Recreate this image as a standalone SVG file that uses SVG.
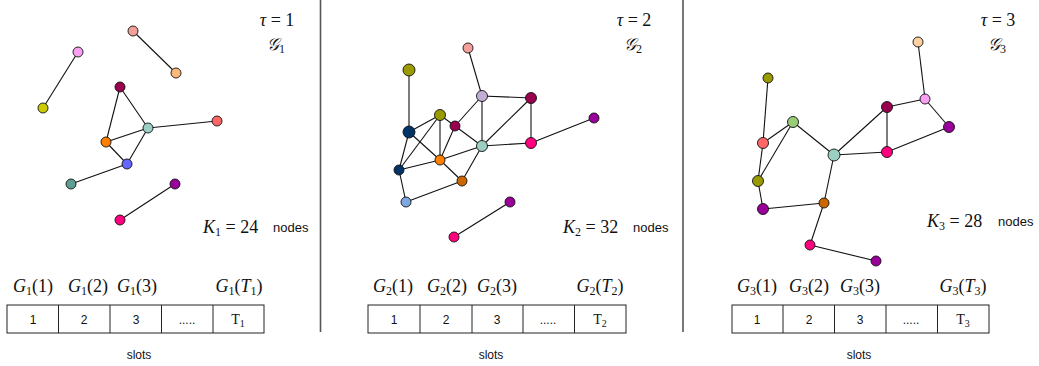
<svg xmlns="http://www.w3.org/2000/svg" width="1039" height="366" viewBox="0 0 1039 366">
<style>
.e{stroke:#111;stroke-width:1.1;fill:none}
.n{stroke:#111;stroke-width:0.9}
.m{font-family:"Liberation Serif","DejaVu Serif",serif;font-size:18px;fill:#111}
.g{font-size:17px}
.i{font-style:italic}
.sb{font-size:12px}
.s{font-family:"Liberation Sans",Arial,sans-serif;font-size:12px;fill:#111}
.nd{font-size:13px}
.box{fill:#fff;stroke:#222;stroke-width:1}
.div{stroke:#555;stroke-width:1.6}
</style>
<rect width="1039" height="366" fill="#fff"/>
<g id="dividers">
<line class="div" x1="320.5" y1="0" x2="320.5" y2="332"/>
<line class="div" x1="683" y1="0" x2="683" y2="332"/>
</g>
<g id="connectors">
<line class="e" x1="133" y1="31" x2="176" y2="73"/>
<line class="e" x1="78" y1="52" x2="43" y2="108"/>
<line class="e" x1="120" y1="87" x2="148" y2="128"/>
<line class="e" x1="120" y1="87" x2="106" y2="142"/>
<line class="e" x1="106" y1="142" x2="148" y2="128"/>
<line class="e" x1="106" y1="142" x2="127" y2="164"/>
<line class="e" x1="127" y1="164" x2="148" y2="128"/>
<line class="e" x1="148" y1="128" x2="217" y2="121"/>
<line class="e" x1="127" y1="164" x2="71" y2="184"/>
<line class="e" x1="175" y1="184" x2="120" y2="220"/>
<line class="e" x1="468" y1="48" x2="482" y2="96"/>
<line class="e" x1="409" y1="70" x2="409" y2="132"/>
<line class="e" x1="482" y1="96" x2="531" y2="98"/>
<line class="e" x1="482" y1="96" x2="455" y2="126"/>
<line class="e" x1="482" y1="96" x2="482" y2="146"/>
<line class="e" x1="531" y1="98" x2="482" y2="146"/>
<line class="e" x1="531" y1="98" x2="531" y2="143"/>
<line class="e" x1="531" y1="143" x2="594" y2="118"/>
<line class="e" x1="531" y1="143" x2="482" y2="146"/>
<line class="e" x1="440" y1="115" x2="409" y2="132"/>
<line class="e" x1="440" y1="115" x2="455" y2="126"/>
<line class="e" x1="440" y1="115" x2="440" y2="160"/>
<line class="e" x1="440" y1="115" x2="399" y2="170"/>
<line class="e" x1="455" y1="126" x2="482" y2="146"/>
<line class="e" x1="455" y1="126" x2="440" y2="160"/>
<line class="e" x1="409" y1="132" x2="399" y2="170"/>
<line class="e" x1="409" y1="132" x2="440" y2="160"/>
<line class="e" x1="482" y1="146" x2="440" y2="160"/>
<line class="e" x1="482" y1="146" x2="462" y2="181"/>
<line class="e" x1="399" y1="170" x2="440" y2="160"/>
<line class="e" x1="440" y1="160" x2="462" y2="181"/>
<line class="e" x1="399" y1="170" x2="406" y2="202"/>
<line class="e" x1="406" y1="202" x2="462" y2="181"/>
<line class="e" x1="510" y1="202" x2="454" y2="237"/>
<line class="e" x1="918" y1="42" x2="925" y2="99"/>
<line class="e" x1="925" y1="99" x2="887" y2="107"/>
<line class="e" x1="925" y1="99" x2="949" y2="127"/>
<line class="e" x1="887" y1="107" x2="887" y2="152"/>
<line class="e" x1="887" y1="107" x2="834" y2="155"/>
<line class="e" x1="834" y1="155" x2="887" y2="152"/>
<line class="e" x1="887" y1="152" x2="949" y2="127"/>
<line class="e" x1="768" y1="78" x2="763" y2="143"/>
<line class="e" x1="763" y1="143" x2="793" y2="122"/>
<line class="e" x1="793" y1="122" x2="834" y2="155"/>
<line class="e" x1="793" y1="122" x2="758" y2="181"/>
<line class="e" x1="763" y1="143" x2="758" y2="181"/>
<line class="e" x1="758" y1="181" x2="763" y2="209"/>
<line class="e" x1="763" y1="209" x2="824" y2="203"/>
<line class="e" x1="824" y1="203" x2="834" y2="155"/>
<line class="e" x1="824" y1="203" x2="810" y2="245"/>
<line class="e" x1="810" y1="245" x2="876" y2="261"/>
</g>
<g id="graph1">
<circle class="n" cx="133" cy="31" r="5" fill="#f4a09a"/>
<circle class="n" cx="176" cy="73" r="5" fill="#fdb97a"/>
<circle class="n" cx="78" cy="52" r="5" fill="#f9a0f5"/>
<circle class="n" cx="43" cy="108" r="5" fill="#cccc00"/>
<circle class="n" cx="120" cy="87" r="5" fill="#99004d"/>
<circle class="n" cx="148" cy="128" r="5" fill="#9ccfc4"/>
<circle class="n" cx="217" cy="121" r="5" fill="#ff6666"/>
<circle class="n" cx="106" cy="142" r="5" fill="#ff8000"/>
<circle class="n" cx="127" cy="164" r="5" fill="#6666ff"/>
<circle class="n" cx="71" cy="184" r="5" fill="#5f9e90"/>
<circle class="n" cx="175" cy="184" r="5" fill="#990099"/>
<circle class="n" cx="120" cy="220" r="5" fill="#ff007f"/>
</g>
<g id="graph2">
<circle class="n" cx="468" cy="48" r="5" fill="#f4a09a"/>
<circle class="n" cx="409" cy="70" r="6" fill="#999900"/>
<circle class="n" cx="482" cy="96" r="5.5" fill="#c2aed4"/>
<circle class="n" cx="531" cy="98" r="5.5" fill="#99004d"/>
<circle class="n" cx="594" cy="118" r="5" fill="#990099"/>
<circle class="n" cx="440" cy="115" r="5.5" fill="#999900"/>
<circle class="n" cx="455" cy="126" r="5" fill="#99004d"/>
<circle class="n" cx="409" cy="132" r="6" fill="#003366"/>
<circle class="n" cx="482" cy="146" r="5.5" fill="#9ccfc4"/>
<circle class="n" cx="531" cy="143" r="5.5" fill="#ff007f"/>
<circle class="n" cx="440" cy="160" r="5" fill="#ff8000"/>
<circle class="n" cx="399" cy="170" r="5" fill="#003366"/>
<circle class="n" cx="462" cy="181" r="5" fill="#cc6600"/>
<circle class="n" cx="406" cy="202" r="5" fill="#7fa8e0"/>
<circle class="n" cx="510" cy="202" r="5" fill="#990099"/>
<circle class="n" cx="454" cy="237" r="5" fill="#ff007f"/>
</g>
<g id="graph3">
<circle class="n" cx="918" cy="42" r="5" fill="#fdd0a0"/>
<circle class="n" cx="768" cy="78" r="5" fill="#999900"/>
<circle class="n" cx="925" cy="99" r="5" fill="#f9a0f5"/>
<circle class="n" cx="887" cy="107" r="5.5" fill="#99004d"/>
<circle class="n" cx="793" cy="122" r="5.5" fill="#99cc77"/>
<circle class="n" cx="949" cy="127" r="5.5" fill="#990099"/>
<circle class="n" cx="763" cy="143" r="5.5" fill="#ff6666"/>
<circle class="n" cx="887" cy="152" r="5.5" fill="#ff007f"/>
<circle class="n" cx="834" cy="155" r="6" fill="#9ccfc4"/>
<circle class="n" cx="758" cy="181" r="5.5" fill="#999900"/>
<circle class="n" cx="824" cy="203" r="5" fill="#cc6600"/>
<circle class="n" cx="763" cy="209" r="5.5" fill="#990099"/>
<circle class="n" cx="810" cy="245" r="5" fill="#ff007f"/>
<circle class="n" cx="876" cy="261" r="5" fill="#990099"/>
</g>
<g id="labels1">
<text class="m" x="277" y="26" text-anchor="middle"><tspan class="i">τ</tspan> = 1</text>
<text class="m" x="276" y="50" text-anchor="middle"><tspan class="i g">𝒢</tspan><tspan class="sb" dy="3">1</tspan></text>
<text class="m" x="203" y="233"><tspan class="i">K</tspan><tspan class="sb" dy="3">1</tspan><tspan dy="-3"> = 24</tspan></text>
<text class="s nd" x="273" y="232">nodes</text>
</g>
<g id="labels2">
<text class="m" x="634" y="26" text-anchor="middle"><tspan class="i">τ</tspan> = 2</text>
<text class="m" x="633" y="50" text-anchor="middle"><tspan class="i g">𝒢</tspan><tspan class="sb" dy="3">2</tspan></text>
<text class="m" x="563" y="233"><tspan class="i">K</tspan><tspan class="sb" dy="3">2</tspan><tspan dy="-3"> = 32</tspan></text>
<text class="s nd" x="633" y="232">nodes</text>
</g>
<g id="labels3">
<text class="m" x="998" y="26" text-anchor="middle"><tspan class="i">τ</tspan> = 3</text>
<text class="m" x="997" y="50" text-anchor="middle"><tspan class="i g">𝒢</tspan><tspan class="sb" dy="3">3</tspan></text>
<text class="m" x="927" y="227"><tspan class="i">K</tspan><tspan class="sb" dy="3">3</tspan><tspan dy="-3"> = 28</tspan></text>
<text class="s nd" x="998" y="226">nodes</text>
</g>
<g id="slots1">
<rect class="box" x="7" y="305" width="257" height="28"/>
<line class="box" x1="58.5" y1="305" x2="58.5" y2="333"/>
<line class="box" x1="110" y1="305" x2="110" y2="333"/>
<line class="box" x1="161.5" y1="305" x2="161.5" y2="333"/>
<line class="box" x1="213" y1="305" x2="213" y2="333"/>
<text class="s" x="33" y="324" text-anchor="middle">1</text>
<text class="s" x="84" y="324" text-anchor="middle">2</text>
<text class="s" x="136" y="324" text-anchor="middle">3</text>
<text class="s" x="187" y="324" text-anchor="middle">.....</text>
<text class="m" x="238" y="324" text-anchor="middle" style="font-size:14px">T<tspan style="font-size:10px" dy="3">1</tspan></text>
<text class="m" x="33" y="292" text-anchor="middle"><tspan class="i">G</tspan><tspan class="sb" dy="3">1</tspan><tspan dy="-3">(1)</tspan></text>
<text class="m" x="88" y="292" text-anchor="middle"><tspan class="i">G</tspan><tspan class="sb" dy="3">1</tspan><tspan dy="-3">(2)</tspan></text>
<text class="m" x="137" y="292" text-anchor="middle"><tspan class="i">G</tspan><tspan class="sb" dy="3">1</tspan><tspan dy="-3">(3)</tspan></text>
<text class="m" x="239" y="292" text-anchor="middle"><tspan class="i">G</tspan><tspan class="sb" dy="3">1</tspan><tspan dy="-3">(</tspan><tspan class="i">T</tspan><tspan class="sb" dy="3">1</tspan><tspan dy="-3">)</tspan></text>
<text class="s" x="139" y="359" text-anchor="middle">slots</text>
</g>
<g id="slots2">
<rect class="box" x="368" y="305" width="258" height="28"/>
<line class="box" x1="420" y1="305" x2="420" y2="333"/>
<line class="box" x1="472" y1="305" x2="472" y2="333"/>
<line class="box" x1="523" y1="305" x2="523" y2="333"/>
<line class="box" x1="574.5" y1="305" x2="574.5" y2="333"/>
<text class="s" x="394" y="324" text-anchor="middle">1</text>
<text class="s" x="446" y="324" text-anchor="middle">2</text>
<text class="s" x="497" y="324" text-anchor="middle">3</text>
<text class="s" x="548" y="324" text-anchor="middle">.....</text>
<text class="m" x="600" y="324" text-anchor="middle" style="font-size:14px">T<tspan style="font-size:10px" dy="3">2</tspan></text>
<text class="m" x="393" y="292" text-anchor="middle"><tspan class="i">G</tspan><tspan class="sb" dy="3">2</tspan><tspan dy="-3">(1)</tspan></text>
<text class="m" x="447" y="292" text-anchor="middle"><tspan class="i">G</tspan><tspan class="sb" dy="3">2</tspan><tspan dy="-3">(2)</tspan></text>
<text class="m" x="497" y="292" text-anchor="middle"><tspan class="i">G</tspan><tspan class="sb" dy="3">2</tspan><tspan dy="-3">(3)</tspan></text>
<text class="m" x="600" y="292" text-anchor="middle"><tspan class="i">G</tspan><tspan class="sb" dy="3">2</tspan><tspan dy="-3">(</tspan><tspan class="i">T</tspan><tspan class="sb" dy="3">2</tspan><tspan dy="-3">)</tspan></text>
<text class="s" x="491" y="359" text-anchor="middle">slots</text>
</g>
<g id="slots3">
<rect class="box" x="732" y="305" width="257" height="28"/>
<line class="box" x1="783" y1="305" x2="783" y2="333"/>
<line class="box" x1="834.5" y1="305" x2="834.5" y2="333"/>
<line class="box" x1="886" y1="305" x2="886" y2="333"/>
<line class="box" x1="937.5" y1="305" x2="937.5" y2="333"/>
<text class="s" x="757" y="324" text-anchor="middle">1</text>
<text class="s" x="809" y="324" text-anchor="middle">2</text>
<text class="s" x="860" y="324" text-anchor="middle">3</text>
<text class="s" x="911" y="324" text-anchor="middle">.....</text>
<text class="m" x="963" y="324" text-anchor="middle" style="font-size:14px">T<tspan style="font-size:10px" dy="3">3</tspan></text>
<text class="m" x="757" y="292" text-anchor="middle"><tspan class="i">G</tspan><tspan class="sb" dy="3">3</tspan><tspan dy="-3">(1)</tspan></text>
<text class="m" x="809" y="292" text-anchor="middle"><tspan class="i">G</tspan><tspan class="sb" dy="3">3</tspan><tspan dy="-3">(2)</tspan></text>
<text class="m" x="860" y="292" text-anchor="middle"><tspan class="i">G</tspan><tspan class="sb" dy="3">3</tspan><tspan dy="-3">(3)</tspan></text>
<text class="m" x="963" y="292" text-anchor="middle"><tspan class="i">G</tspan><tspan class="sb" dy="3">3</tspan><tspan dy="-3">(</tspan><tspan class="i">T</tspan><tspan class="sb" dy="3">3</tspan><tspan dy="-3">)</tspan></text>
<text class="s" x="859" y="359" text-anchor="middle">slots</text>
</g>
</svg>
